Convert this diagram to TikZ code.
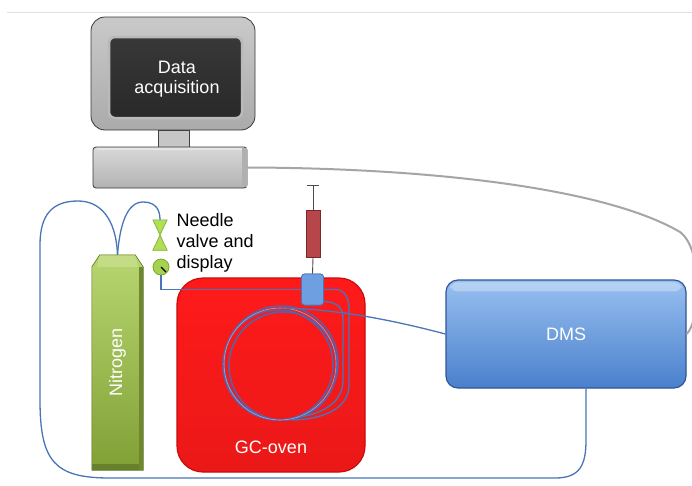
\documentclass[tikz,border=0pt]{standalone}
\usepackage{fontspec}
\setmainfont{Liberation Sans}
\usetikzlibrary{calc}

\definecolor{tube}{RGB}{72,118,185}
\definecolor{coilblue}{RGB}{88,98,170}
\definecolor{ovenred}{RGB}{255,26,26}
\definecolor{ovenedge}{RGB}{200,12,12}
\definecolor{dmstop}{RGB}{152,192,240}
\definecolor{dmsbot}{RGB}{74,128,204}
\definecolor{dmsedge}{RGB}{48,86,150}
\definecolor{gastop}{RGB}{184,214,112}
\definecolor{gasbot}{RGB}{128,160,54}
\definecolor{gasedge}{RGB}{88,112,34}
\definecolor{valvegreen}{RGB}{176,222,86}
\definecolor{valveedge}{RGB}{120,170,50}
\definecolor{barrel}{RGB}{182,70,74}
\definecolor{barreledge}{RGB}{120,40,40}
\definecolor{connblue}{RGB}{110,160,225}
\definecolor{cablegrey}{RGB}{165,165,165}

\tikzset{
  lbl/.style={font=\fontsize{18}{21}\selectfont, inner sep=0pt},
  whitelbl/.style={lbl, text=white},
  tubing/.style={draw=tube, line width=1.3pt},
  coilring/.style={draw=coilblue, line width=1.5pt},
  cable/.style={draw=cablegrey, line width=2pt},
}

\begin{document}
\begin{tikzpicture}[x=1pt,y=-1pt]
\useasboundingbox[fill=white] (0,0) rectangle (692,485);

% thin rule along the top
\draw[gray!25, line width=0.8pt] (7,12) -- (692,12);

% ---------- data acquisition computer ----------
\node[draw=gray!45!black, line width=0.8pt, rounded corners=14pt,
      top color=gray!42, bottom color=gray!66,
      minimum width=164pt, minimum height=113pt] (bezel) at (173,73.5) {};
\node[draw=gray!55, line width=2.5pt, rounded corners=6pt,
      top color=black!78, bottom color=black!84,
      minimum width=133pt, minimum height=81pt] (screen) at (175.5,77.5) {};
\node[whitelbl, align=center, font=\fontsize{18}{20}\selectfont] (datatxt) at (177,79) {Data\\acquisition};
\node[draw=gray!50!black, line width=0.6pt, fill=gray!45,
      minimum width=31pt, minimum height=18pt, inner sep=0pt] (neck) at (173.5,139) {};
\node[draw=gray!45!black, line width=0.8pt, rounded corners=3pt,
      top color=gray!30, bottom color=gray!60,
      minimum width=154pt, minimum height=41pt] (base) at (170,167.5) {};
\draw[gray!20, line width=1.5pt] ($(base.north west)+(4,2.5)$) -- ($(base.north east)+(-4,2.5)$);
\fill[gray!62] ($(base.north east)+(-5,1.5)$) rectangle ($(base.south east)+(-0.8,-1.5)$);

% ---------- DMS ----------
\node[draw=dmsedge, line width=1.2pt, rounded corners=12pt,
      top color=dmstop, bottom color=dmsbot,
      minimum width=240pt, minimum height=108pt] (dms) at (566,334) {};
\fill[white, opacity=0.3, rounded corners=7pt]
  ($(dms.north west)+(5,3)$) rectangle ($(dms.north east)+(-5,12)$);
\coordinate (dmsout) at ($(dms.south)+(20,0)$);

% signal cable from the DMS to the computer
\draw[cable] (base.east) .. controls (430,168) and (605,188) .. (680,232)
  .. controls (704,250) and (700,322) .. (dms.east);

% ---------- nitrogen supply ----------
\node[minimum width=51pt, minimum height=215pt, inner sep=0pt] (nitro) at (117.5,362.5) {};

% gas line looping round to the DMS
\draw[tubing] (nitro.north) .. controls (116,218) and (100,201) .. (78,201)
  .. controls (52,201) and (40,215) .. (40,245) -- (40,400)
  .. controls (40,462) and (55,478) .. (110,478) -- (555,478)
  .. controls (580,478) and (586,465) .. (586,440) -- (dmsout);

% cylinder with bevelled top
\shade[top color=gastop, bottom color=gasbot, draw=gasedge, line width=0.6pt]
  (nitro.south west) -- ($(nitro.north west)+(0,12)$) -- ($(nitro.north west)+(8,0)$)
  -- ($(nitro.north east)+(-8,0)$) -- ($(nitro.north east)+(0,12)$) -- (nitro.south east) -- cycle;
\fill[gastop!85!white] ($(nitro.north west)+(8,1)$) -- ($(nitro.north east)+(-8,1)$)
  -- ($(nitro.north east)+(-5,12)$) -- ($(nitro.north west)+(5,12)$) -- cycle;
\fill[gasbot!80!black] ($(nitro.south west)+(0,-6)$) rectangle (nitro.south east);
\fill[gasbot!85!black] ($(nitro.north east)+(-4,12)$) rectangle (nitro.south east);
\node[whitelbl, rotate=90] (nitrotxt) at (nitro.center) {Nitrogen};

% ---------- needle valve and display ----------
\node[minimum width=14pt, minimum height=30pt, inner sep=0pt] (valve) at (160,235) {};
\filldraw[fill=valvegreen, draw=valveedge, line width=0.6pt]
  (valve.north west) -- (valve.north east) -- (valve.center) -- cycle
  (valve.south west) -- (valve.south east) -- (valve.center) -- cycle;
\node[circle, draw=valveedge, line width=0.8pt, fill=valvegreen!80!gasbot,
      minimum size=16pt, inner sep=0pt] (display) at (161,267) {};
\draw[black, line width=1.2pt] (display.center) -- ($(display.center)+(5,5)$);

\draw[tubing] (nitro.north) .. controls (120,222) and (128,202) .. (143,202)
  .. controls (156,202) and (160,210) .. (valve.north);

\node[lbl, anchor=north west, align=left] (valvetxt) at (176.5,213) {Needle\\valve and\\display};

% ---------- GC oven ----------
\node[draw=ovenedge, line width=1.2pt, rounded corners=26pt,
      top color=ovenred, bottom color=ovenred!92!black,
      minimum width=188pt, minimum height=194pt] (oven) at (271,375) {};
\node[whitelbl] (oventxt) at (271,447) {GC-oven};

% coiled column
\coordinate (coilc) at (280,364);
\draw[coilring] ($(coilc)+(-2,1)$) circle [radius=55pt];
\draw[coilring] ($(coilc)+(1,-1)$) circle [radius=57pt];
\draw[coilring] ($(coilc)+(3,2)$) circle [radius=54pt];
\draw[draw=coilblue!55!white, line width=0.6pt] (coilc) circle [radius=56pt];

% syringe and injector block
\node[draw=barreledge, line width=0.7pt, fill=barrel,
      minimum width=14pt, minimum height=47pt, inner sep=0pt] (syringe) at (313,234) {};
\node[draw=tube, line width=0.7pt, fill=connblue, rounded corners=3pt,
      minimum width=22pt, minimum height=31pt, inner sep=0pt] (conn) at (312.5,289.5) {};

% carrier gas into the injector and column
\draw[tubing] (display.south) |- (conn.west);
\draw[tubing] (conn.east) -- (335,289.5) .. controls (345,289.5) and (349,298) .. (349,310)
  -- (349,385) .. controls (349,405) and (330,419) .. (292,420);
\draw[tubing] ($(conn.south east)+(0,-4)$) .. controls (335,302) and (343,306) .. (343,318)
  -- (343,380) .. controls (343,398) and (330,412) .. (300,417);
% column exit to the DMS
\draw[tubing] (283,308) .. controls (340,309) and (400,322) .. (dms.west);

% redraw the injector over the tubing
\node[draw=tube, line width=0.7pt, fill=connblue, rounded corners=3pt,
      minimum width=22pt, minimum height=31pt, inner sep=0pt] at (conn.center) {};
\draw[black!70, line width=0.9pt] (syringe.north) -- ++(0,-25) coordinate (plunger)
  ($(plunger)+(-6,0)$) -- ($(plunger)+(6,0)$);
\draw[black!70, line width=0.9pt] (syringe.south) -- (conn.north);

\node[whitelbl] (dmstxt) at (dms.center) {DMS};
\end{tikzpicture}
\end{document}
